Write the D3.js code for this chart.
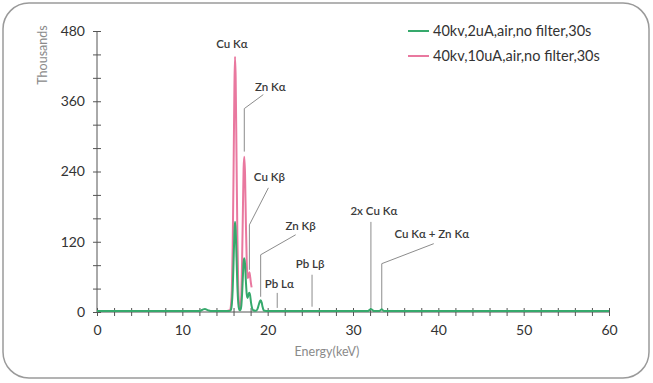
<!DOCTYPE html>
<html><head><meta charset="utf-8">
<script src="https://cdn.jsdelivr.net/npm/d3@7"></script>
<style>
html,body{margin:0;padding:0;background:#fff;}
svg{display:block;font-family:Lato,"Noto Sans",sans-serif;}
</style></head>
<body><svg id="c" width="653" height="383"></svg>
<script>
// ---- data (energy keV, counts in thousands) ----
const seriesNames = ["40kv,2uA,air,no filter,30s", "40kv,10uA,air,no filter,30s"];
const greenEnergy = [0,11.8,12.2,12.45,12.65,12.85,13.1,13.5,15.3,15.6,15.7,15.8,15.9,16.0,16.1,16.17,16.25,16.35,16.45,16.55,16.65,16.72,16.8,16.9,17.0,17.1,17.18,17.26,17.35,17.45,17.55,17.65,17.75,17.85,17.95,18.05,18.15,18.3,18.6,18.8,18.95,19.08,19.18,19.3,19.4,19.5,19.65,20,31.7,31.95,32.1,32.25,32.5,33.1,33.25,33.37,33.5,33.7,60];
const greenCounts = [1.5,1.5,2.5,4.5,5,4,2.5,1.5,1.5,2,4,13,38,83,135,154,140,93,45,16,5,3,3,9,30,62,85,92,82,52,30,24,30,33,28,16,8,3,2,5,12,18,20,16,9,4,2,1.5,1.5,3.5,5,3.5,1.5,1.5,3.5,4.5,3,1.5,1.5];
const pinkEnergy = [15.3,15.6,15.7,15.8,15.9,16.0,16.1,16.17,16.25,16.35,16.45,16.55,16.65,16.72,16.8,16.9,17.0,17.1,17.18,17.26,17.35,17.45,17.55,17.65,17.75,17.86,17.95,18.05,18.12];
const pinkCounts = [2,3,12,37,110,235,380,436,400,265,130,45,14,8,8,25,85,175,245,265,235,150,85,58,60,68,60,48,42];
const yTicks = [0,40,80,120,160,200,240,280,320,360,400,440,480];
const yLabels = [0,120,240,360,480];
const xTicks = d3.range(0, 61, 2);
const xLabels = [0,10,20,30,40,50,60];
// annotations: label, energy (keV), level (thousands) where the leader starts
const annLabels = ["Cu Kα","Zn Kα","Cu Kβ","Zn Kβ","Pb Lα","Pb Lβ","2x Cu Kα","Cu Kα + Zn Kα"];
const annEnergy = [16.17,17.26,17.86,19.18,21.12,25.2,32.1,33.37];
const annLevel  = [436,274,72,26,7,9,7,4];

// ---- layout ----
const svg = d3.select("#c");
const X0 = 97, X1 = 609, Y0 = 312, Y1 = 31;
const x = d3.scaleLinear().domain([0,60]).range([X0,X1]);
const y = d3.scaleLinear().domain([0,480]).range([Y0,Y1]);
const green = "#36a96c", pink = "#e9789f";

svg.append("rect").attr("x",3).attr("y",3).attr("width",646).attr("height",375)
  .attr("rx",26).attr("ry",26).attr("fill","#fff").attr("stroke","#9a9a9a").attr("stroke-width",1.5);

// y axis
const ya = svg.append("g").attr("transform",`translate(${X0},0)`)
  .call(d3.axisLeft(y).tickValues(yTicks).tickSize(4).tickPadding(8)
    .tickFormat(d => yLabels.includes(d) ? d : ""));
ya.select(".domain").attr("stroke","#555").attr("d",`M0,${Y0}V${Y1}`);
ya.selectAll(".tick line").attr("x1",4).attr("stroke","#555");
ya.selectAll(".tick text").attr("font-size",14).attr("fill","#333").attr("font-family","Lato,sans-serif");

// x axis
const xa = svg.append("g").attr("transform",`translate(0,${Y0})`)
  .call(d3.axisBottom(x).tickValues(xTicks).tickSize(4).tickPadding(9)
    .tickFormat(d => xLabels.includes(d) ? d : ""));
xa.select(".domain").attr("stroke","#555").attr("d",`M${X0},0H${X1}`);
xa.selectAll(".tick line").attr("y1",-4).attr("stroke","#555");
xa.selectAll(".tick text").attr("font-size",14).attr("fill","#333").attr("font-family","Lato,sans-serif");

// axis titles
svg.append("text").attr("transform","translate(47,55) rotate(-90)").attr("text-anchor","middle")
  .attr("font-size",12.5).attr("fill","#8a8a8a").text("Thousands");
svg.append("text").attr("x",327).attr("y",356).attr("text-anchor","middle")
  .attr("font-size",12.5).attr("fill","#8a8a8a").text("Energy(keV)");

// annotations (leaders drawn behind the lines)
const ann = annLabels.map((l,i)=>({label:l,e:annEnergy[i],v:annLevel[i]}));
// relative leader geometry in px: [elbowDy, endDx, endDy, textDx, textDy]
const geom = {
  "Cu Kα":[null,null,null,-3,-13],
  "Zn Kα":[-43,19,-57,26,-65],
  "Cu Kβ":[-45,19,-82,20,-93],
  "Zn Kβ":[-42,35,-62,40,-71],
  "Pb Lα":[-15,null,null,2,-23.5],
  "Pb Lβ":[-32,null,null,-2,-42.5],
  "2x Cu Kα":[-86,null,null,3,-97],
  "Cu Kα + Zn Kα":[-46,52,-66,50,-76]
};
const ag = svg.append("g");
ann.forEach(a=>{
  const px = x(a.e), py = y(a.v), g = geom[a.label];
  if (g[0] !== null) {
    let d = `M${px},${py}V${py+g[0]}`;
    if (g[1] !== null) d += `L${px+g[1]},${py+g[2]}`;
    ag.append("path").attr("d",d).attr("fill","none").attr("stroke","#8c8c8c").attr("stroke-width",1);
  }
  ag.append("text").attr("x",px+g[3]).attr("y",py+g[4]).attr("dy","0.35em")
    .attr("text-anchor","middle").attr("font-size",11.5).attr("font-weight",600)
    .attr("fill","#3a3a3a").text(a.label);
});

// lines
const line = d3.line().x(d=>x(d[0])).y(d=>y(d[1])).curve(d3.curveMonotoneX);
svg.append("path").datum(pinkEnergy.map((e,i)=>[e,pinkCounts[i]]))
  .attr("d",line).attr("fill","none").attr("stroke",pink).attr("stroke-width",2);
svg.append("path").datum(greenEnergy.map((e,i)=>[e,greenCounts[i]]))
  .attr("d",line).attr("fill","none").attr("stroke",green).attr("stroke-width",2);

// legend
const lg = svg.append("g");
[green,pink].forEach((c,i)=>{
  const ly = 31 + i*25;
  lg.append("line").attr("x1",408).attr("x2",429).attr("y1",ly).attr("y2",ly)
    .attr("stroke",c).attr("stroke-width",2);
  lg.append("text").attr("x",433).attr("y",ly).attr("dy","0.35em")
    .attr("font-size",14.5).attr("fill","#333").text(seriesNames[i]);
});
</script></body></html>
